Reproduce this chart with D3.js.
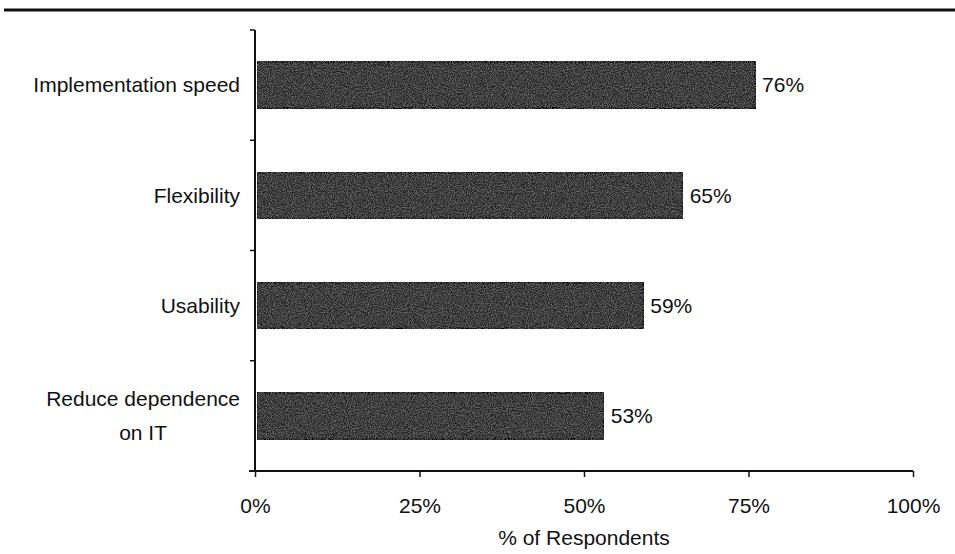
<!DOCTYPE html>
<html>
<head>
<meta charset="utf-8">
<script src="https://cdn.jsdelivr.net/npm/d3@7"></script>
<style>
  html, body { margin: 0; padding: 0; background: #fff; }
  svg { display: block; }
  text { font-family: "Liberation Sans", Arial, sans-serif; fill: #111; }
</style>
</head>
<body>
<svg id="chart" width="955" height="554"></svg>
<script>
// Reasons cited for adoption, share of respondents
const categories = ["Implementation speed", "Flexibility", "Usability", "Reduce dependence\non IT"];
const values = [76, 65, 59, 53];
const xTicks = [0, 25, 50, 75, 100];
const xTitle = "% of Respondents";

const W = 955, H = 554;
const FS = 21;
const margin = { top: 30, right: 42, bottom: 83, left: 255 };
const svg = d3.select("#chart");

// grain filter for the bar fill
const defs = svg.append("defs");
const f = defs.append("filter").attr("id", "grain").attr("x", 0).attr("y", 0).attr("width", 1).attr("height", 1);
f.append("feTurbulence").attr("type", "fractalNoise").attr("baseFrequency", 0.95).attr("numOctaves", 2).attr("seed", 3).attr("result", "noise");
f.append("feColorMatrix").attr("in", "noise").attr("type", "matrix")
  .attr("values", "0 0 0 0 0.5  0 0 0 0 0.5  0 0 0 0 0.5  0 0 0 0.7 -0.28").attr("result", "speck");
f.append("feComposite").attr("in", "speck").attr("in2", "SourceGraphic").attr("operator", "in").attr("result", "speckIn");
f.append("feMerge").call(m => { m.append("feMergeNode").attr("in", "SourceGraphic"); m.append("feMergeNode").attr("in", "speckIn"); });

// heavy rule across the top
svg.append("line").attr("x1", 4).attr("x2", W).attr("y1", 10).attr("y2", 10)
  .attr("stroke", "#111").attr("stroke-width", 3);

const x = d3.scaleLinear().domain([0, 100]).range([margin.left, 913]);
const y = d3.scaleBand().domain(categories).range([margin.top, H - margin.bottom])
  .paddingInner(0.58).paddingOuter(0.29);

// bars
svg.append("g").selectAll("rect").data(values).join("rect")
  .attr("x", x(0) + 2)
  .attr("y", (d, i) => y(categories[i]))
  .attr("width", d => x(d) - x(0) - 2)
  .attr("height", y.bandwidth())
  .attr("fill", "#262626")
  .attr("stroke", "#000")
  .attr("stroke-width", 2)
  .attr("filter", "url(#grain)");

// value labels
svg.append("g").selectAll("text").data(values).join("text")
  .attr("x", d => x(d) + 7)
  .attr("y", (d, i) => y(categories[i]) + y.bandwidth() / 2)
  .attr("dy", "0.35em")
  .attr("font-size", FS)
  .text(d => d + "%");

// x axis
const xAxis = d3.axisBottom(x).tickValues(xTicks).tickFormat(d => d + "%").tickSize(6).tickSizeOuter(0);
const gx = svg.append("g").attr("transform", `translate(0,${H - margin.bottom})`).call(xAxis);
gx.select(".domain").attr("stroke", "#111").attr("stroke-width", 2).attr("d", `M${x(0) - 6},0H${x(100)}`);
gx.selectAll(".tick line").attr("stroke", "#111").attr("stroke-width", 1.5);
gx.selectAll(".tick text").attr("font-size", FS).attr("font-family", "Liberation Sans, Arial, sans-serif")
  .attr("fill", "#111").attr("y", 0).attr("dy", "2.0em");

svg.append("text").attr("x", x(50)).attr("y", 545).attr("text-anchor", "middle")
  .attr("font-size", FS).text(xTitle);

// y axis with ticks at band boundaries
const yTop = margin.top, yBot = H - margin.bottom;
svg.append("line").attr("x1", x(0)).attr("x2", x(0)).attr("y1", yTop).attr("y2", yBot)
  .attr("stroke", "#111").attr("stroke-width", 2);
const step = y.step();
const bounds = d3.range(categories.length).map(i => y(categories[i]) - y.paddingOuter() * step);
svg.append("g").selectAll("line").data(bounds).join("line")
  .attr("x1", x(0) - 5).attr("x2", x(0)).attr("y1", d => d).attr("y2", d => d)
  .attr("stroke", "#111").attr("stroke-width", 1.5);

// category labels, multi-line ones centred as a block
const lab = svg.append("g").selectAll("text").data(categories).join("text")
  .attr("font-size", FS)
  .attr("y", (d, i) => y(d) + y.bandwidth() / 2);
lab.each(function(d) {
  const t = d3.select(this);
  const lines = d.split("\n");
  const lh = 34;
  lines.forEach((ln, k) => {
    t.append("tspan").attr("dy", k === 0 ? (0.35 * FS - (lines.length - 1) * lh / 2) + "px" : lh + "px").text(ln);
  });
  const widths = [];
  t.selectAll("tspan").each(function() { widths.push(this.getComputedTextLength()); });
  const maxW = d3.max(widths);
  const right = x(0) - 15;
  t.attr("text-anchor", "middle");
  t.selectAll("tspan").attr("x", right - maxW / 2);
});
</script>
</body>
</html>
